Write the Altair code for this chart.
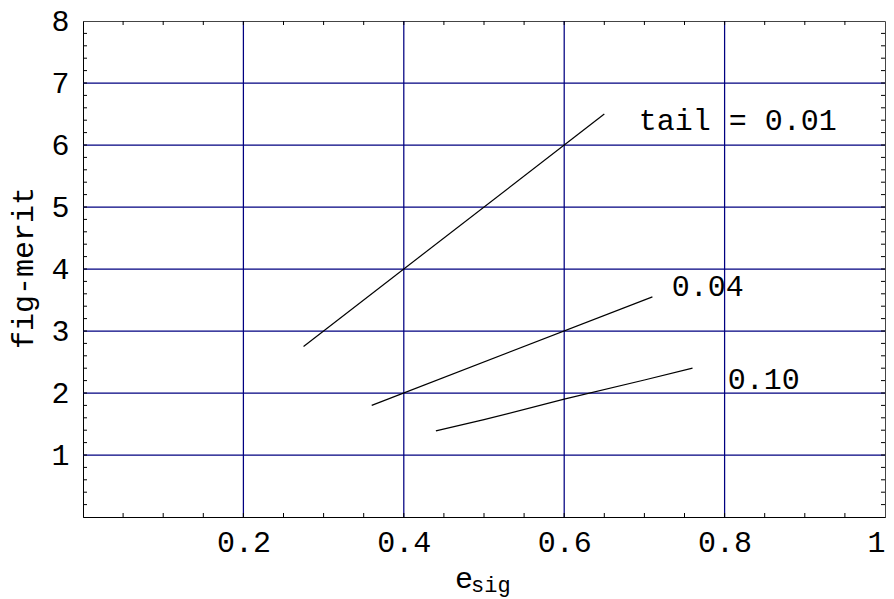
import altair as alt
import pandas as pd

# Curves
x_01 = [0.275, 0.65]
y_01 = [2.75, 6.5]
x_04 = [0.36, 0.71]
y_04 = [1.8, 3.55]
x_10 = [0.44, 0.50, 0.60, 0.70, 0.76]
y_10 = [1.39, 1.57, 1.90, 2.21, 2.40]

# Curve labels
label_text = ["tail = 0.01", "0.04", "0.10"]
label_x = [0.693, 0.734, 0.804]
label_y = [6.25, 3.565, 2.06]

# Axes
x_labels = [0.2, 0.4, 0.6, 0.8, 1.0]
y_labels = [1, 2, 3, 4, 5, 6, 7, 8]
x_grid = [0.2, 0.4, 0.6, 0.8]
y_grid = [1, 2, 3, 4, 5, 6, 7]
x_minor = [round(0.05 * i, 2) for i in range(1, 20)]
y_minor = [round(0.2 * i, 1) for i in range(1, 40)]

W, H = 802, 496
FONT = "Liberation Mono"
FS = 30
NAVY = "#000080"

rows = []
for name, xs_, ys_ in [("0.01", x_01, y_01), ("0.04", x_04, y_04), ("0.10", x_10, y_10)]:
    for i, (a, b) in enumerate(zip(xs_, ys_)):
        rows.append({"series": name, "x": a, "y": b, "i": i})
lines_df = pd.DataFrame(rows)
labels_df = pd.DataFrame({"text": label_text, "x": label_x, "y": label_y})

xs = alt.Scale(domain=[0, 1], nice=False, zero=False)
ys = alt.Scale(domain=[0, 8], nice=False, zero=False)

x_axis = alt.Axis(values=x_labels, grid=False,
                  ticks=False, domainColor="black",
                  domainWidth=1, labelFont=FONT, labelFontSize=FS, labelColor="black",
                  labelPadding=10, labelExpr="datum.value == 1 ? '1' : format(datum.value, '.1f')",
                  labelFlush=True, labelOverlap=False, title=None)
y_axis = alt.Axis(values=y_labels, grid=False,
                  ticks=False, domainColor="black",
                  domainWidth=1, labelFont=FONT, labelFontSize=FS, labelColor="black",
                  labelPadding=14, labelFlush=False, labelOverlap=False, title=None)

gx = alt.Chart(pd.DataFrame({"v": x_grid})).mark_rule(color=NAVY, strokeWidth=1.25).encode(
    x=alt.X("v:Q", scale=xs, axis=x_axis))
gy = alt.Chart(pd.DataFrame({"v": y_grid})).mark_rule(color=NAVY, strokeWidth=1.25).encode(
    y=alt.Y("v:Q", scale=ys, axis=y_axis))

lines = alt.Chart(lines_df).mark_line(color="black", strokeWidth=1.2).encode(
    x=alt.X("x:Q", scale=xs, axis=x_axis),
    y=alt.Y("y:Q", scale=ys, axis=y_axis),
    detail="series:N",
    order="i:Q",
)

TL = 4
tb = alt.Chart(pd.DataFrame({"v": x_minor})).mark_rule(color="black").encode(
    x=alt.X("v:Q", scale=xs, axis=x_axis), y=alt.value(H), y2=alt.value(H - TL))
tt = alt.Chart(pd.DataFrame({"v": x_minor})).mark_rule(color="black").encode(
    x=alt.X("v:Q", scale=xs, axis=x_axis), y=alt.value(0), y2=alt.value(TL))
tl = alt.Chart(pd.DataFrame({"v": y_minor})).mark_rule(color="black").encode(
    y=alt.Y("v:Q", scale=ys, axis=y_axis), x=alt.value(0), x2=alt.value(TL))
tr = alt.Chart(pd.DataFrame({"v": y_minor})).mark_rule(color="black").encode(
    y=alt.Y("v:Q", scale=ys, axis=y_axis), x=alt.value(W), x2=alt.value(W - TL))

labels = alt.Chart(labels_df).mark_text(font=FONT, fontSize=FS, align="left",
                                         baseline="alphabetic", color="black").encode(
    x=alt.X("x:Q", scale=xs, axis=x_axis), y=alt.Y("y:Q", scale=ys, axis=y_axis), text="text:N")

# Axis titles
t_e = alt.Chart(pd.DataFrame({"t": ["e"]})).mark_text(
    font=FONT, fontSize=FS, align="left", baseline="alphabetic", color="black").encode(
    x=alt.value(372), y=alt.value(567), text="t:N")
t_sig = alt.Chart(pd.DataFrame({"t": ["sig"]})).mark_text(
    font=FONT, fontSize=22, align="left", baseline="alphabetic", color="black").encode(
    x=alt.value(388), y=alt.value(571), text="t:N")
t_y = alt.Chart(pd.DataFrame({"t": ["fig-merit"]})).mark_text(
    font=FONT, fontSize=FS, align="center", baseline="alphabetic", angle=270, color="black").encode(
    x=alt.value(-50), y=alt.value(247), text="t:N")

chart = alt.layer(gx, gy, tb, tt, tl, tr, lines, labels, t_e, t_sig, t_y).properties(
    width=W, height=H,
    autosize=alt.AutoSizeParams(type="none"),
    padding={"left": 75, "top": 13, "right": 1, "bottom": 82},
    background="white",
).configure_view(stroke="#444", strokeWidth=1)

chart.save("out.html", embed_options={"renderer": "svg", "actions": False})
